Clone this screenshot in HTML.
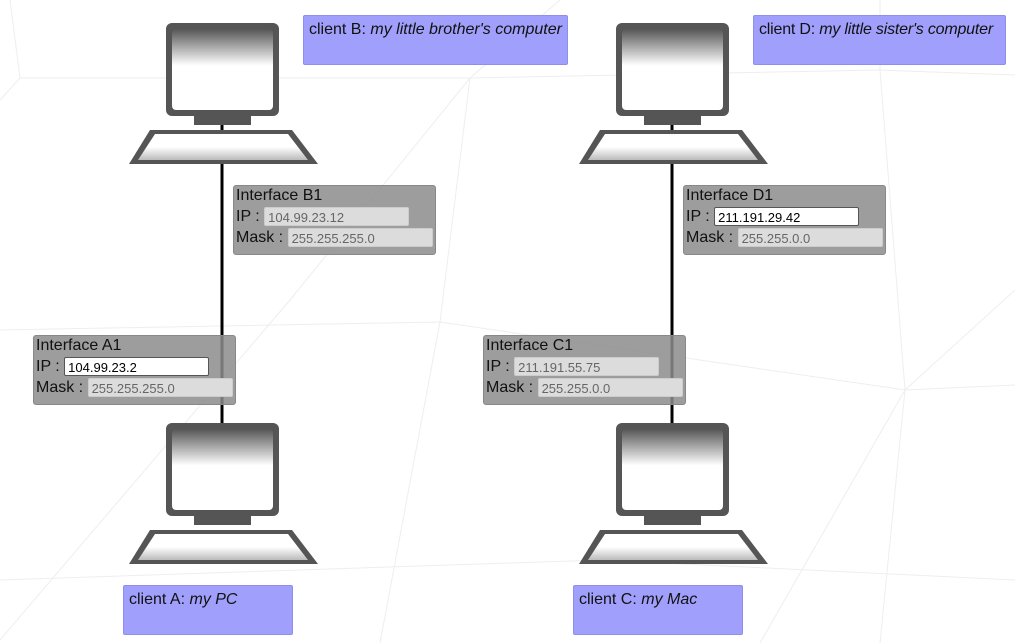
<!DOCTYPE html>
<html><head><meta charset="utf-8"><style>
body{margin:0;width:1015px;height:643px;overflow:hidden;background:#fff;font-family:"Liberation Sans",sans-serif;position:relative}
svg{position:absolute;left:0;top:0}
.lbl{position:absolute;background:#a0a0fc;border:1px solid #8e8ef0;border-radius:2px;box-sizing:border-box;height:50px;font-size:16px;padding:5px 5px;color:#111;white-space:nowrap;overflow:hidden}
.if{position:absolute;width:203px;height:70px;box-sizing:border-box;background:rgba(140,140,140,0.85);border:1px solid #888;border-radius:3px;font-size:16px;color:#111;padding:0 2px}
.if div{height:21px;line-height:20px;white-space:nowrap}
.in{display:inline-block;vertical-align:top;height:19px;line-height:19px;margin-top:0;box-sizing:border-box;font-size:13px;padding-left:3px;border-radius:2px;color:#666;background:#dcdcdc;border:1px solid #ccc}
.in.w{background:#fff;color:#000;border:1px solid #555}
</style></head><body>
<svg width="1015" height="643">
<defs>
<linearGradient id="g" x1="0" y1="0" x2="0" y2="1"><stop offset="0" stop-color="#555"/><stop offset="0.45" stop-color="#fff"/><stop offset="1" stop-color="#fff"/></linearGradient>
<linearGradient id="k" x1="0" y1="0" x2="0" y2="1"><stop offset="0" stop-color="#fff"/><stop offset="0.5" stop-color="#fff"/><stop offset="1" stop-color="#bbb"/></linearGradient>
<g id="pc">
<rect x="-56" y="0" width="113" height="93" rx="6" fill="#555"/>
<rect x="-50" y="6" width="101" height="81" rx="4" fill="url(#g)"/>
<rect x="-28" y="93" width="57" height="9" fill="#555"/>
<polygon points="-72,107 70,107 96,141 -93,141" fill="#555"/>
<polygon points="-67,111 66,111 86,137 -84,137" fill="url(#k)"/>
</g>
</defs>
<g stroke="#eeeeee" stroke-width="1" fill="none">
<polyline points="10,0 20,78 0,100"/>
<polyline points="20,78 470,78 880,70 1015,75"/>
<polyline points="470,78 440,322 0,330"/>
<polyline points="440,322 905,390 1015,385"/>
<polyline points="880,0 880,70 905,390 880,643"/>
<polyline points="905,390 760,643"/>
<polyline points="905,390 1015,290"/>
<polyline points="440,322 380,643"/>
<polyline points="470,78 290,300 0,640"/>
<polyline points="0,580 600,560 1015,580"/>
<polyline points="470,78 560,0"/>
</g>
<line x1="222" y1="120" x2="222" y2="425" stroke="#000" stroke-width="3"/>
<line x1="672" y1="120" x2="672" y2="425" stroke="#000" stroke-width="3"/>
<use href="#pc" x="222" y="23"/>
<use href="#pc" x="672" y="23"/>
<use href="#pc" x="222" y="423"/>
<use href="#pc" x="672" y="423"/>
</svg>
<div class="lbl" style="left:303px;top:15px;width:265px">client B: <i>my little brother's computer</i></div>
<div class="lbl" style="left:753px;top:15px;width:253px;letter-spacing:-0.2px">client D: <i>my little sister's computer</i></div>
<div class="lbl" style="left:123px;top:585px;width:170px">client A: <i>my PC</i></div>
<div class="lbl" style="left:573px;top:585px;width:170px">client C: <i>my Mac</i></div>

<div class="if" style="left:233px;top:185px"><div>Interface B1</div><div>IP : <span class="in" style="width:145px">104.99.23.12</span></div><div>Mask : <span class="in" style="width:145px">255.255.255.0</span></div></div>
<div class="if" style="left:33px;top:335px"><div>Interface A1</div><div>IP : <span class="in w" style="width:145px">104.99.23.2</span></div><div>Mask : <span class="in" style="width:145px">255.255.255.0</span></div></div>
<div class="if" style="left:683px;top:185px"><div>Interface D1</div><div>IP : <span class="in w" style="width:145px">211.191.29.42</span></div><div>Mask : <span class="in" style="width:145px">255.255.0.0</span></div></div>
<div class="if" style="left:483px;top:335px"><div>Interface C1</div><div>IP : <span class="in" style="width:145px">211.191.55.75</span></div><div>Mask : <span class="in" style="width:145px">255.255.0.0</span></div></div>
</body></html>
